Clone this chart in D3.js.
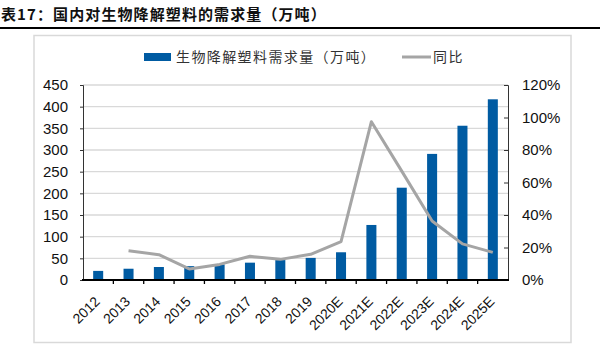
<!DOCTYPE html>
<html><head><meta charset="utf-8">
<script src="https://cdn.jsdelivr.net/npm/d3@7"></script>
<style>body{margin:0;background:#fff;}svg{display:block;}</style>
</head><body>
<svg id="c" width="600" height="349"></svg>
<script>
const categories = ["2012","2013","2014","2015","2016","2017","2018","2019","2020E","2021E","2022E","2023E","2024E","2025E"];
const demand = [21, 26, 30, 32, 36, 40, 46, 51, 64, 127, 213, 291, 356, 417];
const yoy = [null, 0.180, 0.156, 0.068, 0.096, 0.146, 0.127, 0.158, 0.236, 0.974, 0.67, 0.363, 0.222, 0.17];
const leftTicks = [0,50,100,150,200,250,300,350,400,450];
const rightTicks = [0,0.2,0.4,0.6,0.8,1.0,1.2];
const titleText = "表17：国内对生物降解塑料的需求量（万吨）";
const legendBar = "生物降解塑料需求量（万吨）";
const legendLine = "同比";

const svg = d3.select("#c");
const m = {l:83, r:508, t:85, b:280};
const x = d3.scaleBand().domain(categories).range([m.l, m.r]).paddingInner(0.67).paddingOuter(0.335);
const xb = d3.scaleBand().domain(categories).range([m.l, m.r]);
const yL = d3.scaleLinear().domain([0,450]).range([m.b, m.t]);
const yR = d3.scaleLinear().domain([0,1.2]).range([m.b, m.t]);
const latin = "Arial, 'Liberation Sans', sans-serif";
const cjk = "'Noto Sans CJK SC', sans-serif";

// title
svg.append("text").attr("x",1).attr("y",20).attr("font-family",cjk).attr("font-weight","bold")
  .attr("font-size",15).attr("letter-spacing",1.1).attr("fill","#111").text(titleText);
svg.append("line").attr("x1",0).attr("x2",600).attr("y1",28).attr("y2",28).attr("stroke","#000").attr("stroke-width",2);

// frame
svg.append("rect").attr("x",34).attr("y",35.5).attr("width",537).attr("height",307).attr("fill","none")
  .attr("stroke","#d9d9d9").attr("stroke-width",1.5);

// grid
svg.append("g").selectAll("line").data(leftTicks.filter(d=>d>0)).join("line")
  .attr("x1",m.l).attr("x2",m.r).attr("y1",d=>yL(d)).attr("y2",d=>yL(d))
  .attr("stroke","#d9d9d9").attr("stroke-width",1.3);

// bars
svg.append("g").selectAll("rect").data(demand).join("rect")
  .attr("x",(d,i)=>x(categories[i])).attr("width",x.bandwidth())
  .attr("y",d=>yL(d)).attr("height",d=>yL(0)-yL(d)).attr("fill","#005ba2");

// line
const pts = yoy.map((v,i)=>({c:categories[i], v})).filter(d=>d.v!==null);
svg.append("path").datum(pts)
  .attr("d", d3.line().x(d=>xb(d.c)+xb.bandwidth()/2).y(d=>yR(d.v)))
  .attr("fill","none").attr("stroke","#a5a5a5").attr("stroke-width",3).attr("stroke-linejoin","round");

// axes
const axL = svg.append("g").attr("transform",`translate(${m.l},0)`)
  .call(d3.axisLeft(yL).tickValues(leftTicks).tickSize(3).tickPadding(12));
const axR = svg.append("g").attr("transform",`translate(${m.r},0)`)
  .call(d3.axisRight(yR).tickValues(rightTicks).tickFormat(d3.format(".0%")).tickSize(-4).tickPadding(14));
const axB = svg.append("g").attr("transform",`translate(0,${m.b})`)
  .call(d3.axisBottom(xb).tickSize(0).tickFormat(""));
[axL,axR].forEach(a=>{
  a.select(".domain").attr("stroke","#333").attr("stroke-width",1);
  a.selectAll(".tick line").attr("stroke","#333");
  a.selectAll("text").attr("font-family",latin).attr("font-size",15).attr("fill","#111");
});
axB.select(".domain").remove();
axB.append("line").attr("x1",m.l-1).attr("x2",m.r+1).attr("y1",0).attr("y2",0).attr("stroke","#000").attr("stroke-width",2);
axB.selectAll(".bt").data(categories.slice(1)).join("line").attr("class","bt")
  .attr("x1",d=>xb(d)).attr("x2",d=>xb(d)).attr("y1",0).attr("y2",4).attr("stroke","#000").attr("stroke-width",1.3);

// x labels
svg.append("g").selectAll("text").data(categories).join("text")
  .attr("transform",d=>`translate(${xb(d)+xb.bandwidth()/2-1},${m.b+19}) rotate(-45)`)
  .attr("text-anchor","end").attr("dy","0.35em")
  .attr("font-family",latin).attr("font-size",14).attr("fill","#111").text(d=>d);

// legend
svg.append("rect").attr("x",144).attr("y",53).attr("width",27).attr("height",8).attr("fill","#005ba2");
svg.append("text").attr("x",176).attr("y",62).attr("font-family",cjk).attr("font-size",14)
  .attr("letter-spacing",1.4).attr("fill","#333").text(legendBar);
svg.append("line").attr("x1",402).attr("x2",431).attr("y1",57).attr("y2",57).attr("stroke","#a5a5a5").attr("stroke-width",3);
svg.append("text").attr("x",433).attr("y",62).attr("font-family",cjk).attr("font-size",14)
  .attr("letter-spacing",1.4).attr("fill","#333").text(legendLine);
</script>
</body></html>
